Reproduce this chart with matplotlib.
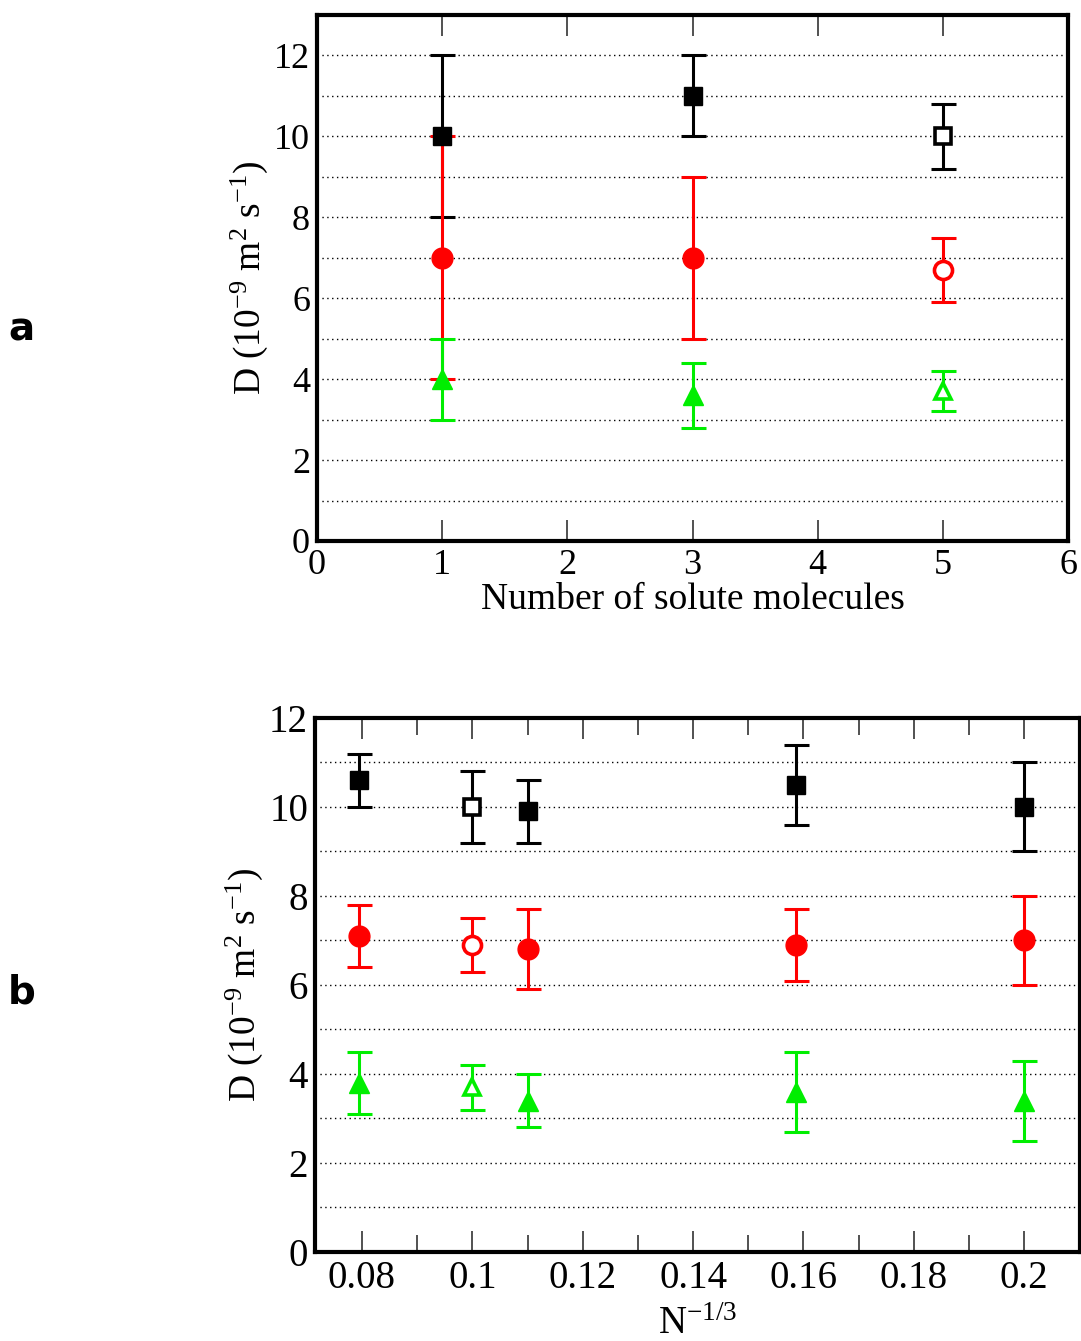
import matplotlib
matplotlib.use("Agg")
import matplotlib.pyplot as plt
from matplotlib.ticker import MultipleLocator
import numpy as np

plt.rcParams['font.family'] = ['Liberation Serif', 'DejaVu Serif']
plt.rcParams['mathtext.fontset'] = 'custom'
plt.rcParams['mathtext.rm'] = 'Liberation Serif'
plt.rcParams['mathtext.it'] = 'Liberation Serif'

# Panel a data
a_x = [1, 3, 5]
a_black = [10.0, 11.0, 10.0]
a_black_lo = [8.0, 10.0, 9.2]
a_black_hi = [12.0, 12.0, 10.8]
a_red = [7.0, 7.0, 6.7]
a_red_lo = [4.0, 5.0, 5.9]
a_red_hi = [10.0, 9.0, 7.5]
a_green = [4.0, 3.6, 3.7]
a_green_lo = [3.0, 2.8, 3.2]
a_green_hi = [5.0, 4.4, 4.2]
a_open = [False, False, True]

# Panel b data
b_x = [0.0794, 0.1, 0.1101, 0.1587, 0.2]
b_black = [10.6, 10.0, 9.9, 10.5, 10.0]
b_black_lo = [10.0, 9.2, 9.2, 9.6, 9.0]
b_black_hi = [11.2, 10.8, 10.6, 11.4, 11.0]
b_red = [7.1, 6.9, 6.8, 6.9, 7.0]
b_red_lo = [6.4, 6.3, 5.9, 6.1, 6.0]
b_red_hi = [7.8, 7.5, 7.7, 7.7, 8.0]
b_green = [3.8, 3.7, 3.4, 3.6, 3.4]
b_green_lo = [3.1, 3.2, 2.8, 2.7, 2.5]
b_green_hi = [4.5, 4.2, 4.0, 4.5, 4.3]
b_open = [False, True, False, False, False]

GREEN = '#00ee00'
RED = '#ff0000'
series_style = [('black', 's', 13), (RED, 'o', 15), (GREEN, '^', 14)]

fig = plt.figure(figsize=(10.81, 13.41), dpi=100)
ax_a = fig.add_axes([0.2933, 0.5966, 0.6947, 0.3922])
ax_b = fig.add_axes([0.2914, 0.0664, 0.7077, 0.3982])


def draw(ax, xs, series, opens):
    for (vals, lo, hi), (col, mk, ms) in zip(series, series_style):
        for x, v, l, h, op in zip(xs, vals, lo, hi, opens):
            ax.errorbar([x], [v], yerr=[[v - l], [h - v]], fmt='none',
                        ecolor=col, elinewidth=2.2, capsize=9, capthick=2.2, zorder=3)
            ax.plot([x], [v], marker=mk, markersize=ms if not op else ms - 2,
                    color=col, markerfacecolor='white' if op else col,
                    markeredgecolor=col, markeredgewidth=2.6 if op else 1,
                    linestyle='none', zorder=4)


def style(ax, fs):
    for s in ax.spines.values():
        s.set_linewidth(3)
    ax.yaxis.set_minor_locator(MultipleLocator(1))
    ax.grid(True, which='both', axis='y', linestyle=(0, (1, 2.5)), color='black', linewidth=1.0)
    ax.set_axisbelow(True)
    ax.tick_params(axis='y', which='both', length=0, labelsize=fs, pad=5)
    ax.tick_params(axis='x', which='major', direction='in', top=True, bottom=True,
                   length=15, width=1.2, color='#333333', labelsize=fs, pad=6)
    ax.tick_params(axis='x', which='minor', direction='in', top=True, bottom=True,
                   length=12, width=1.2, color='#333333')


YLABEL = 'D (10$^{-9}$ m$^{2}$ s$^{-1}$)'

draw(ax_a, a_x, [(a_black, a_black_lo, a_black_hi), (a_red, a_red_lo, a_red_hi),
                 (a_green, a_green_lo, a_green_hi)], a_open)
ax_a.set_xlim(0, 6)
ax_a.set_ylim(0, 13)
ax_a.set_xticks(range(0, 7))
ax_a.set_yticks(range(0, 13, 2))
style(ax_a, 26)
ax_a.set_xlabel('Number of solute molecules', fontsize=27, labelpad=0)
ax_a.set_ylabel(YLABEL, fontsize=27, labelpad=3)

draw(ax_b, b_x, [(b_black, b_black_lo, b_black_hi), (b_red, b_red_lo, b_red_hi),
                 (b_green, b_green_lo, b_green_hi)], b_open)
ax_b.set_xlim(0.0715, 0.2101)
ax_b.set_ylim(0, 12)
ax_b.set_xticks([0.08, 0.1, 0.12, 0.14, 0.16, 0.18, 0.2])
ax_b.set_xticklabels(['0.08', '0.1', '0.12', '0.14', '0.16', '0.18', '0.2'])
ax_b.xaxis.set_minor_locator(MultipleLocator(0.01))
ax_b.set_yticks(range(0, 13, 2))
style(ax_b, 28)
ax_b.set_xlabel('N$^{-1/3}$', fontsize=28, labelpad=6)
ax_b.set_ylabel(YLABEL, fontsize=27, labelpad=3)

fig.text(0.02, 1 - 330 / 1341, 'a', fontsize=28, fontweight='bold',
         family='DejaVu Sans', va='center', ha='center')
fig.text(0.02, 1 - 993 / 1341, 'b', fontsize=28, fontweight='bold',
         family='DejaVu Sans', va='center', ha='center')

fig.savefig('out.png', dpi=100)
